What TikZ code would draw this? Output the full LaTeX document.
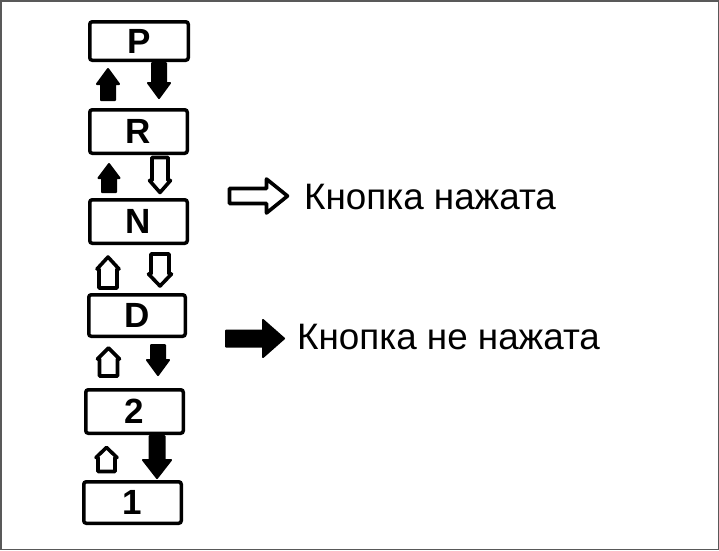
\documentclass[tikz,border=0pt]{standalone}
\usepackage{fontspec}
\setmainfont{Liberation Sans}
\begin{document}
\begin{tikzpicture}[x=1pt,y=-1pt,
  gearbox/.style={draw, line width=3.5pt, rounded corners=2.5pt, inner sep=0pt,
    minimum width=#1, font=\fontsize{35}{35}\selectfont\bfseries},
  fillarr/.style={draw, fill=black, line width=2pt, line join=round},
  hollowarr/.style={draw, fill=white, line width=3.6pt, line join=round},
  legendtext/.style={anchor=base west, inner sep=0pt, font=\fontsize{36.8}{36.8}\selectfont},
  pics/arr/.style n args={5}{code={
    \path[#5] (-#3/2,0) -- (-#3/2,-#1+#2) -- (-#4/2,-#1+#2) -- (0,-#1)
      -- (#4/2,-#1+#2) -- (#3/2,-#1+#2) -- (#3/2,0) -- cycle;}}
]
\useasboundingbox (0,0) rectangle (719,550);
\draw[line width=1.5pt, black!65] (0.75,0.75) rectangle (718.25,549.25);

% gear boxes
\node[gearbox=98.5pt, minimum height=38.5pt] (P) at (139,41) {P};
\node[gearbox=97.5pt, minimum height=43.5pt] (R) at (138.5,131.5) {R};
\node[gearbox=97.5pt, minimum height=43.5pt] (N) at (138.5,221.5) {N};
\node[gearbox=96.5pt, minimum height=41.5pt] (D) at (137,315.5) {D};
\node[gearbox=97.5pt, minimum height=43.5pt] (G2) at (134.5,411.5) {2};
\node[gearbox=97.5pt, minimum height=41.5pt] (G1) at (132.5,502.5) {1};

% P - R
\pic at (108,100) {arr={31}{15}{14}{22}{fillarr}};
\pic[rotate=180] at (159,63) {arr={35}{15}{14}{22}{fillarr}};
% R - N
\pic at (109,192) {arr={28}{14}{14}{21}{fillarr}};
\pic[rotate=180] at (160,157.5) {arr={35}{12}{16}{21}{hollowarr}};
% N - D
\pic at (108,288) {arr={31}{12}{18}{22}{hollowarr}};
\pic[rotate=180] at (160,254) {arr={32}{12}{18}{23}{hollowarr}};
% D - 2
\pic at (108.5,376) {arr={28}{11}{18}{22}{hollowarr}};
\pic[rotate=180] at (158,345) {arr={30}{15}{14}{22}{fillarr}};
% 2 - 1
\pic at (106.5,471.5) {arr={24}{10}{17}{21}{hollowarr}};
\pic[rotate=180] at (157,436) {arr={42}{18}{15}{28}{fillarr}};

% legend
\pic[rotate=-90] at (229.5,196) {arr={58}{21}{15}{34}{hollowarr}};
\node[legendtext] (t1) at (304,209) {Кнопка нажата};
\pic[rotate=-90] at (226,338.5) {arr={58}{21}{16}{37}{fillarr}};
\node[legendtext] (t2) at (297,349) {Кнопка не нажата};
\end{tikzpicture}
\end{document}
